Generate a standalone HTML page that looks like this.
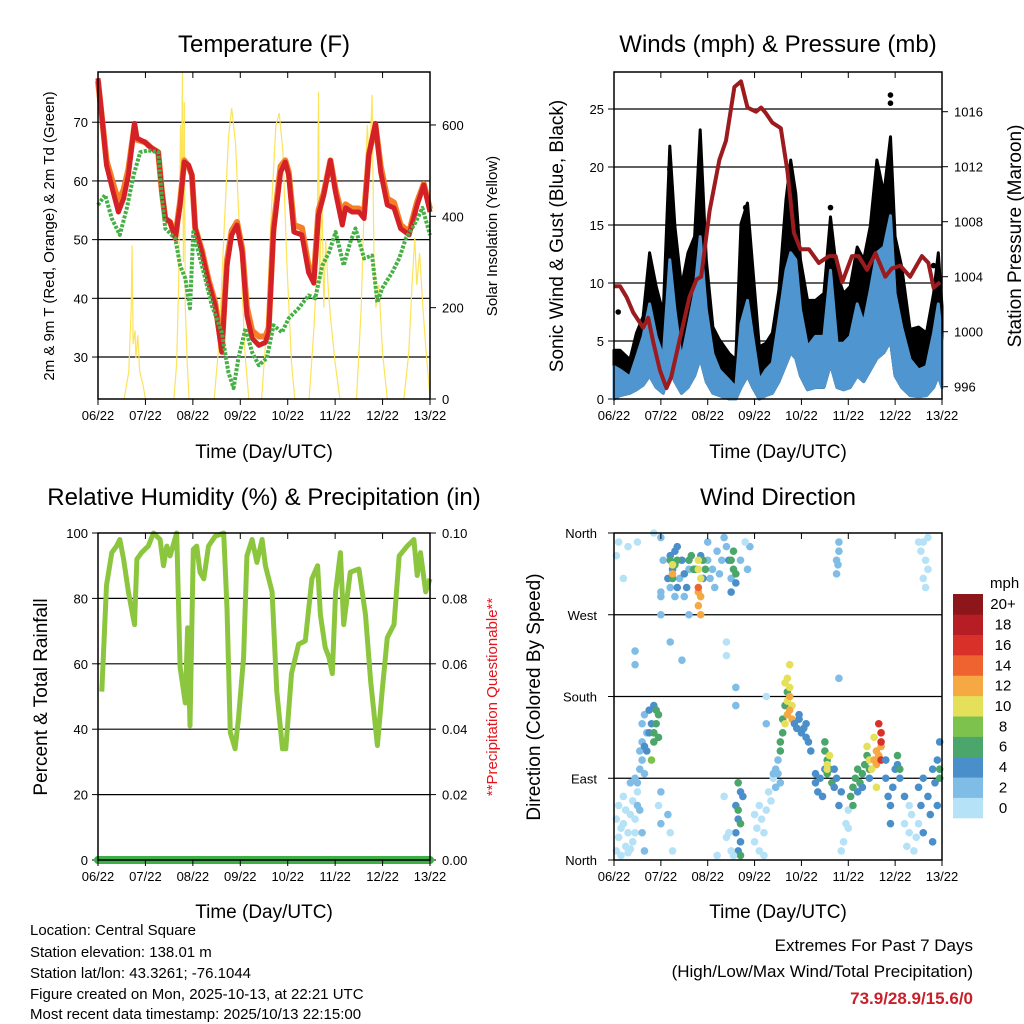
<!DOCTYPE html>
<html><head><meta charset="utf-8"><style>
html,body{margin:0;padding:0;background:#fff}
svg{display:block;font-family:"Liberation Sans",sans-serif}
</style></head><body>
<svg id="svg" width="1024" height="1024" viewBox="0 0 1024 1024" xmlns="http://www.w3.org/2000/svg">
<rect width="1024" height="1024" fill="#fff"/>
<g id="g1"></g>
<g id="g2"></g>
<g id="g3"></g>
<g id="g4"></g>
<text x="264" y="52" font-size="24" text-anchor="middle">Temperature (F)</text>
<text x="778" y="52" font-size="24" text-anchor="middle">Winds (mph) &amp; Pressure (mb)</text>
<text x="264" y="505" font-size="24" text-anchor="middle">Relative Humidity (%) &amp; Precipitation (in)</text>
<text x="778" y="505" font-size="24" text-anchor="middle">Wind Direction</text>
<text x="264" y="458" font-size="19" text-anchor="middle">Time (Day/UTC)</text>
<text x="778" y="458" font-size="19" text-anchor="middle">Time (Day/UTC)</text>
<text x="264" y="918" font-size="19" text-anchor="middle">Time (Day/UTC)</text>
<text x="778" y="918" font-size="19" text-anchor="middle">Time (Day/UTC)</text>
<text transform="translate(54,236) rotate(-90)" font-size="15" text-anchor="middle">2m &amp; 9m T (Red, Orange) &amp; 2m Td (Green)</text>
<text transform="translate(497,236) rotate(-90)" font-size="15" text-anchor="middle">Solar Insolation (Yellow)</text>
<text transform="translate(563,236) rotate(-90)" font-size="19" text-anchor="middle">Sonic Wind &amp; Gust (Blue, Black)</text>
<text transform="translate(1021,236) rotate(-90)" font-size="19" text-anchor="middle">Station Pressure (Maroon)</text>
<text transform="translate(47,697) rotate(-90)" font-size="19" text-anchor="middle">Percent &amp; Total Rainfall</text>
<text transform="translate(497,697) rotate(-90)" font-size="15" text-anchor="middle" fill="#e8141c">**Precipitation Questionable**</text>
<text transform="translate(540,697) rotate(-90)" font-size="19" text-anchor="middle">Direction (Colored By Speed)</text>
<text x="990" y="588" font-size="15">mph</text>
<g font-size="15">
<text x="30" y="935">Location: Central Square</text>
<text x="30" y="957">Station elevation: 138.01 m</text>
<text x="30" y="978">Station lat/lon: 43.3261; -76.1044</text>
<text x="30" y="999">Figure created on Mon, 2025-10-13, at 22:21 UTC</text>
<text x="30" y="1019">Most recent data timestamp: 2025/10/13 22:15:00</text>
</g>
<g font-size="17" text-anchor="end">
<text x="973" y="951">Extremes For Past 7 Days</text>
<text x="973" y="977">(High/Low/Max Wind/Total Precipitation)</text>
<text x="973" y="1004" fill="#c8202a" font-weight="bold">73.9/28.9/15.6/0</text>
</g>
</svg>
<script>
const NS='http://www.w3.org/2000/svg';
const dayLabels=['06/22','07/22','08/22','09/22','10/22','11/22','12/22','13/22'];
// Temperature
const tTimes=[0,0.08,0.18,0.32,0.43,0.54,0.64,0.77,0.82,0.99,1.13,1.27,1.35,1.42,1.52,1.63,1.73,1.82,1.91,1.98,2.05,2.19,2.33,2.47,2.61,2.72,2.82,2.93,3.04,3.14,3.25,3.39,3.53,3.6,3.7,3.85,3.95,4.02,4.13,4.3,4.44,4.55,4.65,4.76,4.9,5.01,5.15,5.22,5.36,5.5,5.61,5.71,5.85,5.96,6.1,6.24,6.38,6.56,6.73,6.87,7.0];
const temp2m=[77.5,71.2,62.7,58.1,54.7,57,61,69.8,67.3,66.6,65.6,64.9,58,53.6,53,50.2,55.9,63.2,62.7,61,51.9,47.8,42.7,38.8,30.8,45.6,50.8,52.5,47.8,37.1,33.2,32,32.5,34.2,51.3,61.5,63.2,61,51.3,50.8,44.4,42.6,54.2,57.6,63.5,58,52.5,55.4,54.7,54.7,53.6,64.4,69.8,61.5,55.9,55.4,51.9,50.8,55.9,59.3,54.7];
const temp9m=[77,71,63.5,59.5,56.5,58.5,62,69.5,67,66.6,65.6,64.9,58,53.6,53,50.5,56.5,63.5,62.5,61,52,48.2,43.2,39.3,31.5,46.5,51.5,53,48.5,38.5,34.5,33.5,33.5,35,52,62.5,63.5,61.5,52.5,52,45.5,43.5,55,58,63.5,58.5,54,56,55.3,55.3,54.5,64.5,69.5,62.5,57,56.3,52.5,51.3,56.5,59.5,55.2];
const tdTimes=[0,0.15,0.29,0.46,0.61,0.75,0.89,1.06,1.27,1.35,1.42,1.63,1.73,1.84,1.94,2.01,2.12,2.26,2.4,2.61,2.75,2.86,2.96,3.11,3.25,3.39,3.56,3.7,3.88,4.02,4.23,4.44,4.58,4.73,4.87,5.01,5.18,5.32,5.43,5.61,5.78,5.89,5.99,6.2,6.35,6.49,6.7,6.84,7.0];
const dewpoint=[55.9,57.6,53.6,50.8,55.4,61,64.9,65.2,64.9,57,51.9,50.2,45.6,43.4,38.3,51.3,47.8,43.4,38.8,34.2,27.4,24.7,29.8,34.9,30.8,28.6,29.8,35.4,34.2,36.6,38.3,40.5,40,45.6,47.8,51.3,45.6,49.6,51.9,46.8,47.3,39.3,41.7,44.4,46.8,50.2,53,55.4,50.8];
const solTimes=[0.55,0.65,0.7,0.72,0.74,0.78,0.8,0.84,0.88,0.95,1.0,1.6,1.66,1.7,1.74,1.76,1.78,1.8,1.82,1.84,1.88,1.92,2.45,2.55,2.65,2.75,2.82,2.9,3.0,3.1,3.18,3.45,3.55,3.65,3.75,3.82,3.9,3.98,4.08,4.15,4.45,4.55,4.62,4.65,4.67,4.72,4.76,4.8,4.85,4.9,5.0,5.1,5.45,5.55,5.62,5.68,5.72,5.78,5.82,5.86,5.92,6.0,6.1,6.45,6.55,6.62,6.68,6.72,6.78,6.85,6.92,6.97,7.0];
const solar=[0,60,200,336,120,150,90,140,60,30,0,0,80,250,600,450,716,300,650,200,80,0,0,120,350,570,637,560,330,100,0,0,150,400,600,626,540,300,80,0,0,150,300,672,250,450,200,350,250,180,80,0,0,200,450,600,500,666,300,200,250,100,0,0,100,250,353,250,320,200,100,40,0];
// Winds
const pTimes=[0,0.13,0.27,0.41,0.62,0.73,0.84,0.98,1.12,1.22,1.4,1.61,1.76,1.86,2.04,2.25,2.39,2.57,2.71,2.85,3.03,3.14,3.24,3.38,3.56,3.7,3.84,3.98,4.16,4.37,4.59,4.73,4.87,5.08,5.22,5.4,5.58,5.79,5.93,6.11,6.32,6.57,6.71,6.82,6.96];
const pressure=[1003.3,1003.3,1002.5,1001.4,1000.3,1001,999.2,997.2,995.9,996.7,999.4,1002.5,1003.8,1004,1008.8,1012.5,1013.9,1017.8,1018.2,1016.3,1016,1016.3,1015.9,1015.2,1014.8,1011.7,1007.2,1006,1006,1005,1005.5,1005.5,1003.6,1005.5,1005.5,1004.5,1005.7,1004,1004.6,1004.8,1004,1005.5,1005,1003.2,1003.6];
const wTimes=[0,0.13,0.34,0.48,0.62,0.76,0.9,1.05,1.19,1.3,1.44,1.58,1.72,1.84,1.97,2.11,2.25,2.46,2.6,2.71,2.85,2.96,3.1,3.24,3.38,3.52,3.67,3.77,3.88,3.98,4.13,4.3,4.48,4.62,4.76,4.9,5.04,5.19,5.33,5.47,5.61,5.76,5.9,6.0,6.14,6.32,6.5,6.67,6.82,6.92,7.0];
const gustMax=[4.2,4.2,3.4,5.7,7.1,12.6,9.7,7.4,21.8,14.9,9.7,12.6,14,23.2,12,6.2,5.1,3.9,3.4,15.1,16.9,11.4,4.5,4.8,5.7,9.4,17.2,20.6,17.7,12,8.5,8.5,9.1,15.7,10.8,9.1,9.7,13.1,12,14.9,20.6,17.7,22.6,14,11.4,6,6.2,5.7,9.1,12.6,8];
const windMax=[2.8,2.5,1.9,3.6,5.4,8.2,5.4,3.6,12,7.7,3.4,6.2,9.1,14,7.7,3.9,2.5,1.6,1.0,6.5,8.5,5.4,1.6,2.5,3.1,6.8,11.1,12.6,12,7.7,4.5,5.4,5.4,11.1,4.8,4.8,5.4,8.2,6.5,9.4,12.6,13.1,15.8,9.1,6.2,3.4,2.5,2.8,5.7,8.2,5];
const windMin=[0,0.3,0.5,0.8,1.2,2,1,0.5,2.5,1.5,0.5,1,2,3.5,1.5,0.5,0.3,0,0,1,2,1,0,0.3,0.5,1.5,3,4,3.5,2,0.8,1,1,3,1,0.8,1,2,1.5,2.5,3.5,4,5,2,1,0.3,0.2,0.3,1,2,1];
const gustOutT=[5.9,5.9,1.19,2.81,0.09,6.82,4.62,3.0];
const gustOutV=[26.2,25.5,19.8,16.5,7.5,11.5,16.5,7.5];
// RH
const rhTimes=[0.08,0.18,0.29,0.39,0.46,0.54,0.64,0.77,0.82,0.92,1.06,1.17,1.31,1.38,1.45,1.52,1.66,1.73,1.84,1.89,1.94,2.01,2.08,2.15,2.23,2.33,2.47,2.65,2.72,2.79,2.89,2.96,3.07,3.14,3.25,3.35,3.46,3.53,3.67,3.77,3.89,3.96,4.08,4.23,4.37,4.51,4.63,4.69,4.79,4.87,4.94,5.01,5.11,5.18,5.32,5.5,5.64,5.75,5.89,5.99,6.1,6.24,6.35,6.52,6.66,6.73,6.8,6.91,7.0];
const rh=[51.5,84,94,96,98,92,82,72,92,94,96,100,98,90,96,93,100,59,48,71,41,95,96,88,86,96,99,100,77,39,34,43,62,93,98,91,98,90,82,51.5,34,34,57,66,67,86,90,75,65,62,57,82,94,72,88,89,75,54.5,35,51.5,68,72,93,96,98,87,94,82,86];
// Wind direction
const dirT=[0.05,0.1,0.15,0.2,0.25,0.3,0.35,0.1,0.2,0.4,0.45,0.3,0.05,0.15,0.25,0.35,0.4,0.5,0.45,0.5,0.55,0.6,0.65,0.5,0.55,0.6,0.7,0.65,0.6,0.45,0.35,0.7,0.75,0.8,0.85,0.65,0.75,0.85,0.9,0.9,0.95,0.85,0.95,0.8,0.05,0.1,0.3,0.2,0.45,0.45,0.55,0.6,0.65,1.0,1.05,1.2,1.3,1.4,1.5,1.6,2.0,2.05,2.1,2.15,2.2,2.25,2.3,2.4,2.35,2.0,2.5,2.7,2.85,2.9,1.6,1.15,1.25,1.3,1.35,1.45,1.5,1.55,1.75,1.85,1.9,1.2,1.35,2.45,2.5,2.6,1.25,1.3,1.35,1.6,1.65,1.7,1.9,1.95,2.5,2.55,2.6,2.55,1.2,1.8,1.8,1.85,1.25,1.8,1.85,1.8,1.85,1.25,1.8,0.5,1.0,1.0,1.45,1.2,2.4,2.4,0.95,1.0,1.0,1.2,1.25,1.15,2.35,2.4,2.2,2.6,2.65,2.7,2.6,2.65,2.7,2.75,2.65,2.7,2.7,2.65,2.5,2.45,2.55,3.0,3.05,3.1,3.15,3.2,3.1,3.25,3.3,3.35,3.4,3.0,3.2,3.4,3.45,3.5,3.55,3.5,3.45,3.55,3.6,3.6,3.65,3.7,3.55,3.65,3.7,3.7,3.75,3.8,3.65,3.7,3.75,3.8,3.75,3.75,3.85,3.9,3.95,4.0,4.05,4.1,4.15,4.2,3.95,4.1,4.3,4.35,4.3,4.4,4.5,4.45,4.5,4.55,4.6,4.55,4.65,4.5,4.55,4.6,4.55,4.7,4.75,4.7,4.8,4.85,4.9,4.95,5.0,4.85,5.0,5.05,5.1,5.15,5.2,5.3,5.35,5.4,5.45,5.1,5.25,5.4,5.45,5.2,5.3,5.45,5.55,5.6,5.65,5.6,5.7,5.7,5.7,5.7,5.65,5.5,5.55,5.6,5.8,5.85,5.9,5.95,5.8,6.0,6.05,6.1,6.2,5.9,6.05,6.1,6.2,6.3,6.25,6.35,6.4,6.45,6.3,6.5,6.5,6.55,6.6,6.7,6.75,6.8,6.85,6.9,6.95,6.6,6.8,6.9,6.95,6.95,4.75,4.8,4.78,4.8,4.75,6.55,6.6,6.65,6.7,6.6,6.7,6.65,0.85,1.0,2.8,6.5,3.25,3.25,4.8,2.6,2.6];
const dirV=[10,25,5,40,15,30,50,60,70,20,45,8,45,35,55,12,65,75,30,85,100,110,95,60,120,130,140,160,150,90,85,120,140,150,170,125,165,140,150,165,135,130,160,110,335,350,345,310,215,230,55,30,10,355,330,300,290,310,290,320,330,310,320,300,340,315,330,345,355,350,310,330,320,345,270,310,320,340,300,330,315,300,320,335,310,335,345,330,295,305,310,325,330,330,335,320,330,320,330,320,315,340,330,320,330,310,325,295,290,280,270,315,300,350,270,290,220,240,225,240,60,40,75,30,10,50,70,25,5,60,45,20,30,10,75,70,55,40,5,85,10,30,5,20,35,10,45,30,60,55,75,65,90,50,5,95,100,110,85,95,80,120,140,155,170,185,130,150,175,200,190,170,195,160,165,155,180,215,150,145,155,140,145,135,130,120,160,150,85,75,95,90,100,70,120,110,100,95,85,130,105,115,100,80,90,100,60,75,20,40,35,10,55,70,80,90,100,95,105,115,100,60,85,125,110,75,80,90,110,120,115,105,125,140,130,110,150,100,135,80,90,70,60,80,110,100,105,90,70,40,115,100,40,30,15,50,10,25,60,40,80,60,90,70,50,100,85,110,130,30,20,60,100,90,330,340,325,350,315,340,350,330,320,310,355,300,360,295,350,350,180,150,200,170,190];
const dirS=[1,1,1,1,1,1,1,1,1,1,1,1,1,1,1,1,1,1,1,3,3,3,3,3,3,3,3,3,3,3,3,5,5,5,5,5,5,7,7,7,7,7,7,9,1,1,1,1,3,3,3,3,3,3,3,3,3,3,3,3,3,3,3,3,3,3,3,3,3,3,3,3,3,3,3,5,5,5,5,5,5,5,5,5,5,5,5,5,5,5,7,7,7,7,7,7,7,7,7,7,7,7,7,11,11,11,11,13,13,13,13,13,15,1,3,3,3,3,1,1,1,3,3,1,1,3,1,1,1,5,5,5,5,5,5,5,7,7,7,7,1,1,1,1,1,1,1,1,1,1,1,1,1,1,1,3,3,3,3,3,3,7,7,7,7,7,7,11,11,11,11,11,11,13,13,13,13,11,5,5,5,5,5,5,5,5,5,5,5,5,5,5,5,5,7,7,7,7,7,7,11,11,11,5,5,5,5,5,1,1,1,1,1,7,7,7,7,7,7,7,7,7,7,11,11,5,5,5,13,13,13,13,13,17,17,17,17,11,11,11,5,5,5,5,5,5,5,5,5,5,7,7,1,1,1,1,1,1,1,1,5,5,5,5,5,5,5,5,5,5,5,5,7,7,3,3,3,3,3,1,1,1,1,1,1,1,1,3,1,1,1,3,3,3,3];
const binColors=['#b5e2f7','#7fbde6','#4a8fc9','#4aa66b','#7dc24d','#e5e05a','#f6a843','#ef6330','#d9302a','#b71d24','#8c1619'];
const binLabels=['0','2','4','6','8','10','12','14','16','18','20+'];

function el(tag,attrs,parent){const e=document.createElementNS(NS,tag);for(const k in attrs)e.setAttribute(k,attrs[k]);parent.appendChild(e);return e;}
function txt(x,y,s,parent,anchor,size){const t=el('text',{x:x,y:y,'font-size':size||13,'text-anchor':anchor||'middle'},parent);t.textContent=s;return t;}
const g1=document.getElementById('g1'),g2=document.getElementById('g2'),g3=document.getElementById('g3'),g4=document.getElementById('g4');

function frame(g,L,T,R,B,xf,name){
  for(let i=0;i<8;i++){const x=xf(i);
    el('line',{x1:x,y1:T,x2:x,y2:T+6,stroke:'#000','stroke-width':1},g);
    el('line',{x1:x,y1:B,x2:x,y2:B+6,stroke:'#000','stroke-width':1},g);
    const t=txt(x,B+21,dayLabels[i],g);
    
    
  }
  const r=el('rect',{x:L,y:T,width:R-L,height:B-T,fill:'none',stroke:'#000','stroke-width':1.5},g);
  
  
}
function hgrid(g,L,R,y){el('line',{x1:L,y1:y,x2:R,y2:y,stroke:'#000','stroke-width':1.2},g);}
function poly(pts){return pts.map(p=>p[0].toFixed(1)+','+p[1].toFixed(1)).join(' ');}

// ---- Panel 1 ----
(function(){
  const L=98,T=72,R=430,B=399;
  const x=d=>L+d*(R-L)/7, y=v=>399-(v-22.85)*5.87, ys=v=>399-v*0.4567;
  [30,40,50,60,70].forEach(v=>{hgrid(g1,L,R,y(v));el('line',{x1:L-6,y1:y(v),x2:L,y2:y(v),stroke:'#000'},g1);const t=txt(L-10,y(v)+5,String(v),g1,'end');});
  [0,200,400,600].forEach(v=>{el('line',{x1:R,y1:ys(v),x2:R+6,y2:ys(v),stroke:'#000'},g1);const t=txt(R+12,ys(v)+5,String(v),g1,'start');});
  const s=el('polyline',{points:poly(solTimes.map((t,i)=>[x(t),ys(solar[i])])),fill:'none',stroke:'#fde35a','stroke-width':1.2},g1);
  
  
  const o=el('polyline',{points:poly(tTimes.map((t,i)=>[x(t),y(temp9m[i])])),fill:'none',stroke:'#f57f27','stroke-width':6,'stroke-linejoin':'round'},g1);
  
  
  const r=el('polyline',{points:poly(tTimes.map((t,i)=>[x(t),y(temp2m[i])])),fill:'none',stroke:'#d42027','stroke-width':5,'stroke-linejoin':'round'},g1);
  
  
  const d=el('polyline',{points:poly(tdTimes.map((t,i)=>[x(t),y(dewpoint[i])])),fill:'none',stroke:'#45b045','stroke-width':4,'stroke-dasharray':'3 1.5','stroke-linejoin':'round'},g1);
  
  
  frame(g1,L,T,R,B,i=>x(i),'temperature');
})();

// ---- Panel 2 ----
(function(){
  const L=614,T=72,R=942,B=399;
  const x=d=>L+d*(R-L)/7, y=v=>399-v*11.6, yp=p=>111.7+(1016-p)*13.75;
  [5,10,15,20,25].forEach(v=>hgrid(g2,L,R,y(v)));
  [0,5,10,15,20,25].forEach(v=>{el('line',{x1:L-6,y1:y(v),x2:L,y2:y(v),stroke:'#000'},g2);const t=txt(L-10,y(v)+5,String(v),g2,'end');});
  [996,1000,1004,1008,1012,1016].forEach(v=>{el('line',{x1:R,y1:yp(v),x2:R+6,y2:yp(v),stroke:'#000'},g2);const t=txt(R+12,yp(v)+5,String(v),g2,'start');});
  const top=wTimes.map((t,i)=>[x(t),y(gustMax[i])]), bot=wTimes.map((t,i)=>[x(t),y(windMin[i])]).reverse();
  const gb=el('polygon',{points:poly(top.concat(bot)),fill:'#000',stroke:'#000','stroke-width':3,'stroke-linejoin':'round'},g2);
  
  
  gustOutT.forEach((t,i)=>{const c=el('circle',{cx:x(t),cy:y(gustOutV[i]),r:2.8,fill:'#000'},g2);});
  const wt=wTimes.map((t,i)=>[x(t),y(windMax[i])]);
  const wb=el('polygon',{points:poly(wt.concat(bot)),fill:'#4f95cf',stroke:'#4f95cf','stroke-width':3,'stroke-linejoin':'round'},g2);
  
  
  const p=el('polyline',{points:poly(pTimes.map((t,i)=>[x(t),yp(pressure[i])])),fill:'none',stroke:'#9b1b1e','stroke-width':4,'stroke-linejoin':'round'},g2);
  
  
  frame(g2,L,T,R,B,i=>x(i),'winds');
})();

// ---- Panel 3 ----
(function(){
  const L=98,T=533,R=430,B=860;
  const x=d=>L+d*(R-L)/7, y=v=>860-v*3.27;
  [20,40,60,80].forEach(v=>hgrid(g3,L,R,y(v)));
  [0,20,40,60,80,100].forEach(v=>{el('line',{x1:L-6,y1:y(v),x2:L,y2:y(v),stroke:'#000'},g3);const t=txt(L-10,y(v)+5,String(v),g3,'end');});
  ['0.00','0.02','0.04','0.06','0.08','0.10'].forEach((s,i)=>{const yy=y(i*20);el('line',{x1:R,y1:yy,x2:R+6,y2:yy,stroke:'#000'},g3);const t=txt(R+12,yy+5,s,g3,'start');});
  const l=el('polyline',{points:poly(rhTimes.map((t,i)=>[x(t),y(rh[i])])),fill:'none',stroke:'#8cc63f','stroke-width':5,'stroke-linejoin':'round'},g3);
  
  
  const pr=el('line',{x1:L,y1:y(0),x2:R,y2:y(0),stroke:'#3daf48','stroke-width':8,'stroke-linecap':'round'},g3);
  
  
  frame(g3,L,T,R,B,i=>x(i),'humidity');
})();

// ---- Panel 4 ----
(function(){
  const L=614,T=533,R=942,B=860;
  const x=d=>L+d*(R-L)/7, y=v=>860-v*327/360;
  [90,180,270].forEach(v=>hgrid(g4,L,R,y(v)));
  ['North','East','South','West','North'].forEach((s,i)=>{const yy=y(i*90);el('line',{x1:L-6,y1:yy,x2:L,y2:yy,stroke:'#000'},g4);const t=txt(L-17,yy+5,s,g4,'end');});
  dirT.forEach((t,i)=>{const b=Math.min(10,Math.floor(dirS[i]/2));
    const c=el('circle',{cx:x(t),cy:y(dirV[i]),r:3.8,fill:binColors[b]},g4);
    
    
  });
  frame(g4,L,T,R,B,i=>x(i),'direction');
  const cb=el('g',{},g4);
  
  
  const h=224/11;
  binColors.forEach((c,i)=>{const yy=594+(10-i)*h;
    el('rect',{x:953,y:yy,width:30,height:h+0.3,fill:c},cb);
    const t=txt(1003,yy+h/2+5,binLabels[i],cb,'middle',15);
    
    
  });
})();
</script>
</body></html>
